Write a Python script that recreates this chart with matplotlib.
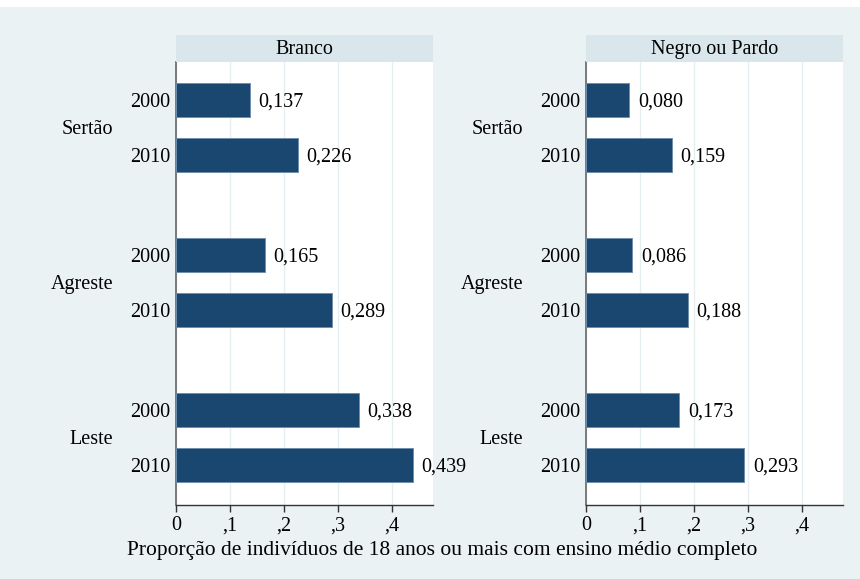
import matplotlib
matplotlib.use("Agg")
import matplotlib.pyplot as plt
from matplotlib.patches import Rectangle

regions = ["Sertão", "Agreste", "Leste"]
years = ["2000", "2010"]
panels = ["Branco", "Negro ou Pardo"]
values_branco = [0.137, 0.226, 0.165, 0.289, 0.338, 0.439]
values_negro = [0.080, 0.159, 0.086, 0.188, 0.173, 0.293]
xticks = [0, 0.1, 0.2, 0.3, 0.4]
xticklabels = ["0", ",1", ",2", ",3", ",4"]
xlabel = "Proporção de indivíduos de 18 anos ou mais com ensino médio completo"

plt.rcParams['font.family'] = ['Liberation Serif', 'DejaVu Serif']
FS = 14.5
BG = "#EAF2F3"
STRIP = "#D9E6EC"
BAR = "#1A476F"
GRID = "#E6EEF2"

W, H = 860, 579
fig = plt.figure(figsize=(W / 100, H / 100), dpi=100)
fig.patch.set_facecolor("white")
fig.patches.append(Rectangle((0, 0), 1, 1 - 7 / H, transform=fig.transFigure,
                             facecolor=BG, edgecolor="none", zorder=-10))

# bar positions (grouped)
gap = 155 / 55
ypos = []
for g in range(3):
    ypos += [g * gap, g * gap + 1]
ylim_top = (62 - 100) / 55
ylim_bot = (505 - 100) / 55

lefts_px = [176, 586]
right_px = [433, 843]
for p, (name, vals) in enumerate(zip(panels, [values_branco, values_negro])):
    x0 = lefts_px[p] / W
    w = (right_px[p] - lefts_px[p]) / W
    ax = fig.add_axes([x0, 1 - 505 / H, w, 443 / H])
    ax.set_facecolor("white")
    ax.barh(ypos, vals, height=34 / 55, color=BAR, edgecolor="#6F8FAD",
            linewidth=0.7, zorder=3)
    for y, v in zip(ypos, vals):
        ax.text(v + 0.016, y, f"{v:.3f}".replace(".", ","), va="center_baseline",
                ha="left", fontsize=FS, color="black", zorder=4)
    xmax = (right_px[p] - lefts_px[p]) / 540
    ax.set_xlim(0, xmax)
    ax.set_ylim(ylim_bot, ylim_top)
    ax.set_xticks(xticks)
    ax.set_xticklabels(xticklabels, fontsize=FS)
    ax.grid(axis="x", color=GRID, linewidth=1.0, zorder=0)
    ax.set_yticks(ypos)
    ax.set_yticklabels(years * 3, fontsize=FS)
    ax.tick_params(axis="y", length=0, pad=4)
    ax.tick_params(axis="x", length=5, width=1, color="#333333", pad=3)
    for s in ["top", "right"]:
        ax.spines[s].set_visible(False)
    ax.spines["left"].set_color("#666666")
    ax.spines["left"].set_linewidth(1.2)
    ax.spines["bottom"].set_color("#333333")
    ax.spines["bottom"].set_linewidth(1.0)
    for g, r in enumerate(regions):
        ax.text(-63 / 540, g * gap + 0.5, r, ha="right", va="center_baseline",
                fontsize=FS, transform=ax.transData, clip_on=False)
    # strip
    sax = fig.add_axes([x0, 1 - 62 / H, w, 27 / H])
    sax.set_facecolor(STRIP)
    sax.set_xticks([])
    sax.set_yticks([])
    for s in sax.spines.values():
        s.set_visible(False)
    sax.text(0.5, 0.45, name, ha="center", va="center", fontsize=FS,
             transform=sax.transAxes)

fig.text(442 / W, 1 - 551 / H, xlabel, ha="center", va="center", fontsize=FS + 1)
fig.savefig("out.png", dpi=100, facecolor=fig.get_facecolor())
